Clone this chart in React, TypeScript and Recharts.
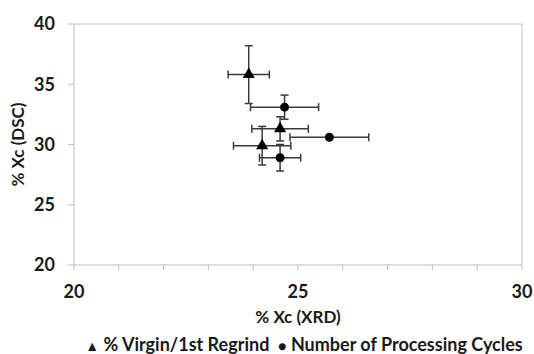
import {
  ScatterChart,
  Scatter,
  XAxis,
  YAxis,
  ZAxis,
  ErrorBar,
  ReferenceLine,
} from "recharts";

// % Virgin/1st Regrind series
const virginX = [23.9, 24.6, 24.2];
const virginY = [35.8, 31.3, 29.9];
const virginXErr = [0.46, 0.63, 0.64];
const virginYErr = [2.4, 1.0, 1.6];

// Number of Processing Cycles series
const cyclesX = [24.7, 25.7, 24.6];
const cyclesY = [33.1, 30.6, 28.9];
const cyclesXErr = [0.76, 0.88, 0.46];
const cyclesYErr = [1.0, 0, 1.1];

const xTicks = [20, 21, 22, 23, 24, 25, 26, 27, 28, 29, 30];
const xLabels = [20, 25, 30];
const yTicks = [20, 25, 30, 35, 40];

const FONT = "Lato, 'Open Sans', sans-serif";
const AXIS = "#bfbfbf";
const BAR = "#3a3a3a";

const virginData = virginX.map((x, i) => ({ x, y: virginY[i], ex: virginXErr[i], ey: virginYErr[i] }));
const cyclesData = cyclesX.map((x, i) => ({ x, y: cyclesY[i], ex: cyclesXErr[i], ey: cyclesYErr[i] }));

export default function App() {
  return (
    <div style={{ position: "absolute", left: 0, top: 0, width: 534, height: 354, background: "#fff", fontFamily: FONT }}>
      <ScatterChart width={534} height={354} margin={{ top: 24, right: 12, bottom: 59, left: 24 }}>
        <XAxis
          type="number"
          dataKey="x"
          domain={[20, 30]}
          ticks={xTicks}
          interval={0}
          tickFormatter={(v: number) => (xLabels.includes(v) ? String(v) : "")}
          stroke={AXIS}
          tickSize={5}
          tickMargin={15}
          height={30}
          tick={{ fill: "#1a1a1a", fontSize: 18, fontWeight: 700, fontFamily: FONT }}
          label={{ value: "% Xc (XRD)", position: "insideBottom", offset: -28, fill: "#1a1a1a", fontSize: 17, fontWeight: 700, fontFamily: FONT }}
        />
        <YAxis
          type="number"
          dataKey="y"
          domain={[20, 40]}
          ticks={yTicks}
          interval={0}
          stroke={AXIS}
          tickSize={6}
          tickMargin={13}
          width={50}
          tick={{ fill: "#1a1a1a", fontSize: 18, fontWeight: 700, fontFamily: FONT }}
          label={{ value: "% Xc (DSC)", angle: -90, position: "insideLeft", offset: -6, style: { textAnchor: "middle" }, fill: "#1a1a1a", fontSize: 17, fontWeight: 700, fontFamily: FONT }}
        />
        <ZAxis range={[110, 110]} />
        <ReferenceLine y={40} stroke={AXIS} />
        <ReferenceLine x={30} stroke={AXIS} />
        <Scatter data={virginData} shape="triangle" fill="#000" isAnimationActive={false}>
          <ErrorBar dataKey="ex" direction="x" width={4} stroke={BAR} strokeWidth={1.5} />
          <ErrorBar dataKey="ey" direction="y" width={4} stroke={BAR} strokeWidth={1.5} />
        </Scatter>
        <Scatter data={cyclesData} shape="circle" fill="#000" isAnimationActive={false}>
          <ErrorBar dataKey="ex" direction="x" width={4} stroke={BAR} strokeWidth={1.5} />
          <ErrorBar dataKey="ey" direction="y" width={4} stroke={BAR} strokeWidth={1.5} />
        </Scatter>
      </ScatterChart>
      <div
        style={{
          position: "absolute",
          left: 80,
          width: 448,
          top: 333,
          textAlign: "center",
          fontSize: 18,
          fontWeight: 700,
          color: "#1a1a1a",
          whiteSpace: "nowrap",
          lineHeight: "22px",
        }}
      >
        <span style={{ fontSize: 14 }}>▲</span> % Virgin/1st Regrind&nbsp;&nbsp;
        <span style={{ fontSize: 14 }}>●</span> Number of Processing Cycles
      </div>
    </div>
  );
}
